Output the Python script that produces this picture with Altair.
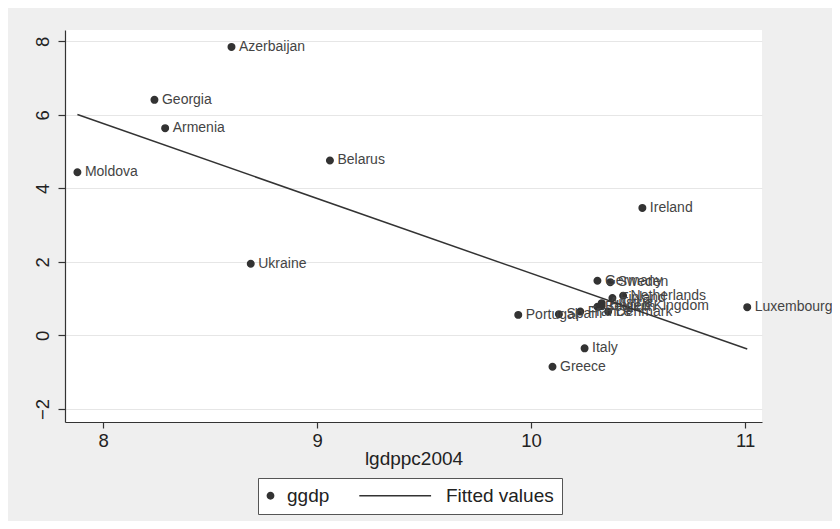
import altair as alt
import pandas as pd

countries = ["Moldova", "Georgia", "Armenia", "Azerbaijan", "Ukraine", "Belarus",
             "Ireland", "Luxembourg", "Italy", "Greece", "Portugal", "Spain",
             "France", "Germany", "Sweden", "Netherlands", "Finland", "Austria",
             "Belgium", "United Kingdom", "Denmark"]
lgdppc2004 = [7.88, 8.24, 8.29, 8.60, 8.69, 9.06,
              10.52, 11.01, 10.25, 10.10, 9.94, 10.13,
              10.23, 10.31, 10.37, 10.43, 10.38, 10.33,
              10.31, 10.33, 10.36]
ggdp = [4.44, 6.41, 5.64, 7.85, 1.95, 4.76,
        3.47, 0.77, -0.35, -0.85, 0.56, 0.58,
        0.65, 1.49, 1.45, 1.08, 1.02, 0.88,
        0.78, 0.80, 0.65]
fit_x = [7.88, 11.01]
fit_y = [6.01, -0.37]
x_ticks = [8, 9, 10, 11]
y_ticks = [-2, 0, 2, 4, 6, 8]
series_names = ["ggdp", "Fitted values"]

df = pd.DataFrame({"country": countries, "lgdppc2004": lgdppc2004,
                   "ggdp": ggdp, "series": series_names[0]})
fit = pd.DataFrame({"lgdppc2004": fit_x, "fitted": fit_y})

FONT = "Liberation Sans"
DARK = "#333333"

xscale = alt.Scale(domain=[7.822, 11.079], nice=False, zero=False)
yscale = alt.Scale(domain=[-2.354, 8.31], nice=False, zero=False)

x_axis = alt.Axis(values=x_ticks, title="lgdppc2004", grid=False, format="d",
                  labelFontSize=18.5, titleFontSize=19, tickSize=6,
                  labelPadding=3, titlePadding=0, titleFontWeight="normal")
y_axis = alt.Axis(values=y_ticks, title=None, grid=True, format="d",
                  labelAngle=270, labelAlign="center", labelBaseline="bottom",
                  labelFontSize=18.5, tickSize=7, labelPadding=6)

legend = alt.Legend(title=None, orient="none", legendX=193, legendY=448,
                    direction="horizontal", strokeColor="#555555",
                    fillColor="white", padding=8, labelFont=FONT,
                    labelFontSize=19, labelColor="#222222", labelOffset=7,
                    columnPadding=26, symbolSize=40, symbolStrokeWidth=1.5,
                    symbolOffset=-5)

points = alt.Chart(df).mark_point(filled=False, opacity=1, fill=DARK,
                                  stroke=DARK, strokeWidth=1.5,
                                  size=42).encode(
    x=alt.X("lgdppc2004:Q", scale=xscale, axis=x_axis),
    y=alt.Y("ggdp:Q", scale=yscale, axis=y_axis),
    shape=alt.Shape("series:N",
                    scale=alt.Scale(domain=series_names,
                                    range=["circle", "M-22.2,0L0.5,0"]),
                    legend=legend),
)

labels = alt.Chart(df).mark_text(align="left", baseline="middle", dx=7.5,
                                 font=FONT, fontSize=14,
                                 color="#444444").encode(
    x=alt.X("lgdppc2004:Q", scale=xscale),
    y=alt.Y("ggdp:Q", scale=yscale),
    text="country:N",
)

line = alt.Chart(fit).mark_line(color=DARK, strokeWidth=1.5).encode(
    x=alt.X("lgdppc2004:Q", scale=xscale),
    y=alt.Y("fitted:Q", scale=yscale),
)

chart = alt.layer(points, labels, line).properties(
    width=697, height=392,
    padding={"left": 57, "top": 22, "right": 70, "bottom": 99},
    autosize=alt.AutoSizeParams(type="none"),
    background="#efefef",
).configure_view(
    fill="white", strokeWidth=0
).configure_axis(
    domainColor=DARK, tickColor=DARK, gridColor="#e6e6e6", gridWidth=1,
    labelColor="#222222", titleColor="#222222", labelFont=FONT,
    titleFont=FONT, domainWidth=1.2, tickWidth=1.2
)

chart.save("out.html", embed_options={"renderer": "svg", "actions": False})
